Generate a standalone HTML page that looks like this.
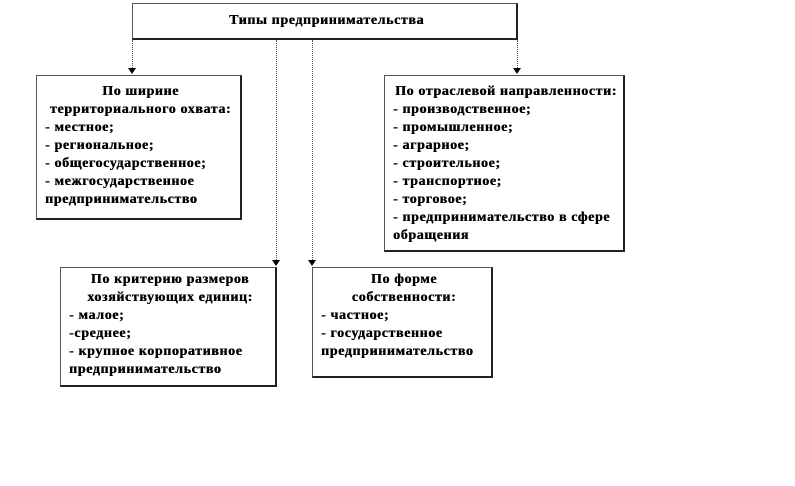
<!DOCTYPE html>
<html><head><meta charset="utf-8"><style>
body{margin:0;width:795px;height:486px;background:#fff;position:relative;font-family:"Liberation Serif",serif;font-weight:bold;font-size:14px;letter-spacing:0.6px;color:#000;overflow:hidden}
.b{position:absolute;border:1px solid #555;border-right:2px solid #222;border-bottom:2px solid #222;box-sizing:border-box;line-height:18px;padding:4px 4px 4px 8px;background:#fff;white-space:nowrap;text-shadow:0.4px 0 0 #000}
.c{text-align:center}
.l{position:absolute;width:0;border-left:1px dotted #555}
.a{position:absolute;width:0;height:0;border-left:4px solid transparent;border-right:4px solid transparent;border-top:6px solid #000}
</style></head><body>
<div class="b c" style="left:132px;top:3px;width:386px;height:37px;padding-top:8px">Типы предпринимательства</div>
<div class="l" style="left:132px;top:40px;height:30px"></div><div class="a" style="left:128px;top:68px"></div>
<div class="l" style="left:517px;top:40px;height:30px"></div><div class="a" style="left:513px;top:68px"></div>
<div class="l" style="left:276px;top:40px;height:222px"></div><div class="a" style="left:272px;top:260px"></div>
<div class="l" style="left:312px;top:40px;height:222px"></div><div class="a" style="left:308px;top:260px"></div>
<div class="b" style="left:36px;top:75px;width:206px;height:145px;padding-top:7px"><div class="c">По ширине<br>территориального охвата:</div>- местное;<br>- региональное;<br>- общегосударственное;<br>- межгосударственное<br>предпринимательство</div>
<div class="b" style="left:384px;top:75px;width:241px;height:177px;padding-top:7px"><div class="c">По отраслевой направленности:</div>- производственное;<br>- промышленное;<br>- аграрное;<br>- строительное;<br>- транспортное;<br>- торговое;<br>- предпринимательство в сфере<br>обращения</div>
<div class="b" style="left:60px;top:267px;width:217px;height:120px;padding-top:3px"><div class="c">По критерию размеров<br>хозяйствующих единиц:</div>- малое;<br>-среднее;<br>- крупное корпоративное<br>предпринимательство</div>
<div class="b" style="left:312px;top:267px;width:181px;height:111px;padding-top:3px"><div class="c">По форме<br>собственности:</div>- частное;<br>- государственное<br>предпринимательство</div>
</body></html>
